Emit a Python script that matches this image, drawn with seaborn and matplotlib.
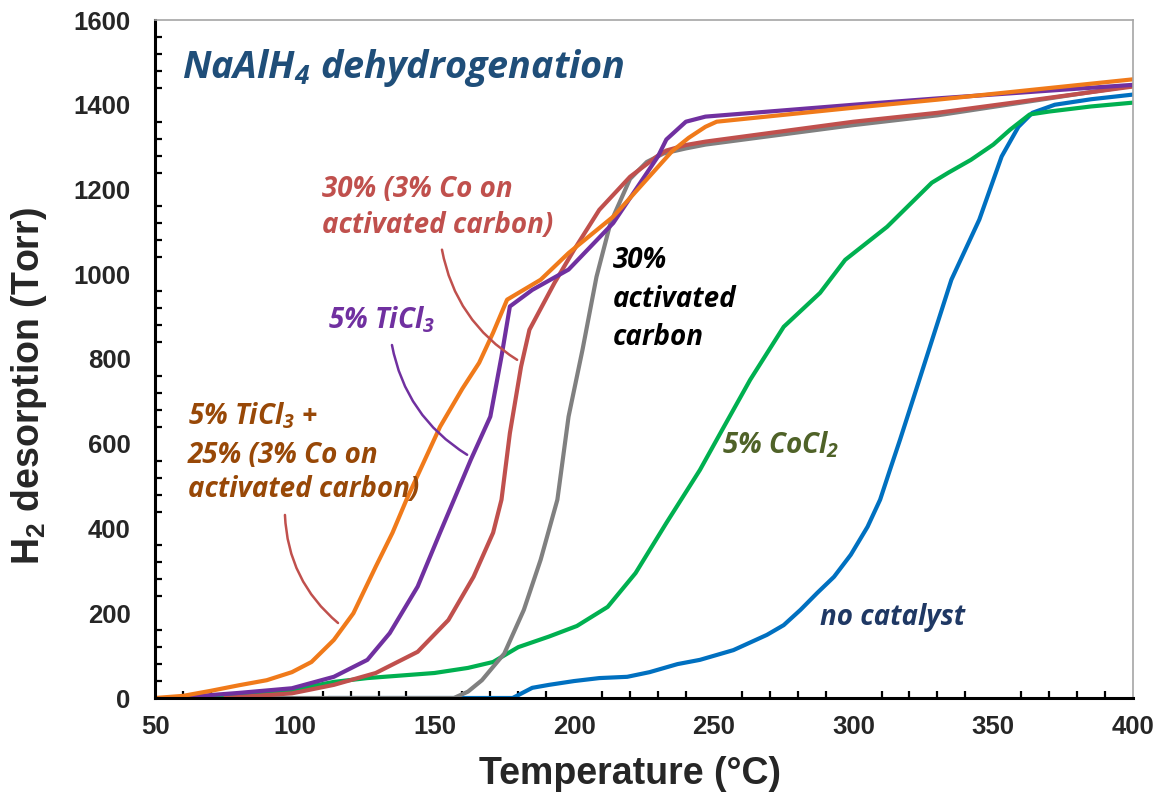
import matplotlib
matplotlib.use("Agg")
import matplotlib.pyplot as plt
from matplotlib.ticker import MultipleLocator
import numpy as np
import pandas as pd
import seaborn as sns

# ---- data: temperature (°C) and H2 pressure (Torr) for each sample ----
t_no_cat = [112, 178, 185, 191, 200, 209, 219, 227, 237, 245, 257, 269, 275, 281, 287,
            293, 299, 305, 309.5, 313, 316.6, 323, 335, 345, 353, 359, 364, 372, 385, 400]
p_no_cat = [0, 0, 24, 31, 40, 47, 50, 61, 80, 90, 113, 149, 172, 208, 248,
            286, 338, 404, 468, 538, 609, 740, 987, 1129, 1278, 1348, 1381, 1400, 1413, 1424]

t_cocl2 = [60, 80, 99, 114, 126, 150, 162, 171, 180, 191, 201, 212, 222, 233, 245, 253,
           263, 275, 288, 297, 312, 328, 334, 342, 350, 356, 363, 370, 385, 400]
p_cocl2 = [0, 8, 19, 38, 47, 59, 71, 85, 120, 145, 170, 215, 295, 413, 538, 633,
           751, 876, 956, 1034, 1112, 1216, 1240, 1270, 1306, 1341, 1377, 1384, 1396, 1405]

t_ac = [88, 157, 162, 167, 175, 182, 188, 194, 198, 203, 208, 213, 220, 226, 232, 240,
        247, 300, 330, 400]
p_ac = [0, 0, 15, 42, 105, 208, 326, 468, 664, 822, 994, 1121, 1225, 1265, 1285, 1297,
        1306, 1352, 1375, 1445]

t_co_ac = [75, 99, 114, 129, 144, 155, 164, 171, 174, 177, 181, 184, 193, 200, 209, 220,
           230, 233, 240, 247, 300, 330, 400]
p_co_ac = [0, 11, 31, 59, 109, 184, 286, 390, 468, 625, 782, 869, 980, 1058, 1152, 1230,
           1280, 1292, 1305, 1313, 1360, 1381, 1443]

t_ticl3 = [55, 62, 80, 99, 114, 126, 134, 144, 152, 157, 163, 170, 174, 177, 185, 198,
           214, 230, 233, 240, 247, 300, 330, 400]
p_ticl3 = [0, 3, 12, 23, 50, 90, 153, 263, 390, 468, 562, 664, 806, 924, 963, 1011,
           1121, 1278, 1318, 1360, 1372, 1400, 1415, 1447]

t_ticl3_co = [50, 60, 70, 80, 90, 99, 106, 114, 121, 129, 135, 140, 152, 160, 166, 171,
              176, 188, 198, 214, 235, 241, 247, 251, 300, 330, 400]
p_ticl3_co = [0, 5, 17, 30, 42, 61, 85, 137, 200, 310, 390, 468, 640, 730, 791, 862,
              940, 987, 1050, 1136, 1290, 1322, 1348, 1360, 1393, 1412, 1460]

series_names = ["no catalyst", "5% CoCl2", "30% activated carbon",
                "30% (3% Co on activated carbon)", "5% TiCl3",
                "5% TiCl3 + 25% (3% Co on activated carbon)"]
series_t = [t_no_cat, t_cocl2, t_ac, t_co_ac, t_ticl3, t_ticl3_co]
series_p = [p_no_cat, p_cocl2, p_ac, p_co_ac, p_ticl3, p_ticl3_co]
line_colors = ["#0070C0", "#00B050", "#808080", "#C0504D", "#7030A0", "#F07A1A"]

frames = [pd.DataFrame({"temperature": t, "pressure": p, "sample": n})
          for n, t, p in zip(series_names, series_t, series_p)]
df = pd.concat(frames, ignore_index=True)

# ---- style ----
sns.set_theme(style="white")
plt.rcParams["font.family"] = ["Liberation Sans", "DejaVu Sans"]
plt.rcParams["mathtext.fontset"] = "custom"
plt.rcParams["mathtext.it"] = "Open Sans:italic:bold"
plt.rcParams["mathtext.rm"] = "Open Sans:italic:bold"
plt.rcParams["mathtext.sf"] = "Liberation Sans:bold"

fig = plt.figure(figsize=(11.57, 7.94), dpi=100)
ax = fig.add_axes([155 / 1157, 1 - 698 / 794, (1133 - 155) / 1157, (698 - 20) / 794])

sns.lineplot(data=df, x="temperature", y="pressure", hue="sample",
             hue_order=series_names, palette=dict(zip(series_names, line_colors)),
             estimator=None, sort=False, linewidth=3.0, legend=False, ax=ax)

ax.set_xlim(50, 400)
ax.set_ylim(0, 1600)
ax.xaxis.set_major_locator(MultipleLocator(50))
ax.xaxis.set_minor_locator(MultipleLocator(10))
ax.yaxis.set_major_locator(MultipleLocator(200))
ax.yaxis.set_minor_locator(MultipleLocator(40))

for side in ("left", "bottom"):
    ax.spines[side].set_color("black")
    ax.spines[side].set_linewidth(2.2)
for side in ("top", "right"):
    ax.spines[side].set_color("#A6A6A6")
    ax.spines[side].set_linewidth(1.2)

ax.tick_params(which="major", direction="inout", length=13, width=2.2, color="black",
               top=False, right=False, labelsize=18.5)
ax.tick_params(axis="y", which="major", pad=11)
ax.tick_params(axis="x", which="major", pad=6)
ax.tick_params(which="minor", direction="in", length=5, width=1.6, color="black",
               top=False, right=False, bottom=True, left=True)
for lbl in ax.get_xticklabels() + ax.get_yticklabels():
    lbl.set_fontweight("bold")

ax.set_xlabel("Temperature (°C)", fontsize=27, fontweight="bold")
ax.set_ylabel(r"H$_\mathsf{2}$ desorption (Torr)", fontsize=27, fontweight="bold")
ax.xaxis.set_label_coords(0.486, -0.085)
ax.yaxis.set_label_coords(-0.108, 0.46)

# ---- annotations ----
label_font = dict(family=["Open Sans", "DejaVu Sans"], fontweight="bold", style="italic")
ax.text(59.7, 1462, r"NaAlH$_\mathit{4}$ dehydrogenation", color="#1F4E79",
        fontsize=27.2, va="baseline", ha="left", **label_font)

labels = [
    ("30% (3% Co on", 109.8, 1183, "#C0504D"),
    ("activated carbon)", 109.8, 1098, "#C0504D"),
    (r"5% TiCl$_\mathit{3}$", 111.9, 873, "#7030A0"),
    (r"5% TiCl$_\mathit{3}$ +", 61.8, 645, "#984807"),
    ("25% (3% Co on", 61.8, 555, "#984807"),
    ("activated carbon)", 61.8, 475, "#984807"),
    ("30%", 213.9, 1015, "black"),
    ("activated", 213.9, 923, "black"),
    ("carbon", 213.9, 834, "black"),
    (r"5% CoCl$_\mathit{2}$", 252.9, 578, "#4F6228"),
    ("no catalyst", 288.0, 172, "#1F3864"),
]
for txt, x, y, c in labels:
    ax.text(x, y, txt, color=c, fontsize=20, va="baseline", ha="left", **label_font)

connectors = [
    ((152.7, 1058), (179.6, 798), "#C0504D"),
    ((134.8, 833), (161.7, 574), "#7030A0"),
    ((96.5, 432), (115.5, 177), "#C0504D"),
]
for start, end, c in connectors:
    ax.annotate("", xy=end, xytext=start,
                arrowprops=dict(arrowstyle="-", color=c, lw=1.8,
                                connectionstyle="arc3,rad=0.22",
                                shrinkA=0, shrinkB=0))

fig.savefig("out.png", dpi=100)
